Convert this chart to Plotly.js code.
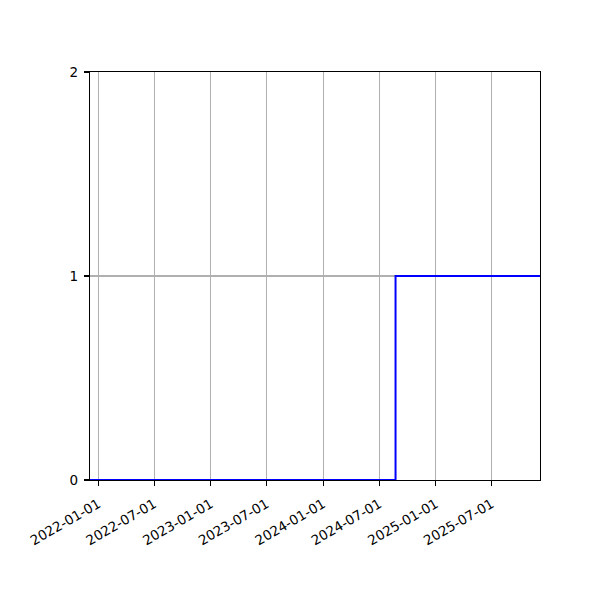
<!DOCTYPE html>
<html>
<head>
<meta charset="utf-8">
<script src="https://cdn.plot.ly/plotly-3.0.1.min.js"></script>
<style>
  html, body { margin: 0; padding: 0; background: #fff; }
  #chart { width: 600px; height: 600px; }
</style>
</head>
<body>
<div id="chart"></div>
<script>
// step series: 0 until late Aug 2024, then 1
const dates = ['2021-12-05', '2024-08-23', '2025-12-05'];
const values = [0, 1, 1];
const tickDates = ['2022-01-01', '2022-07-01', '2023-01-01', '2023-07-01',
  '2024-01-01', '2024-07-01', '2025-01-01', '2025-07-01'];
const yTicks = [0, 1, 2];

const trace = {
  x: dates,
  y: values,
  type: 'scatter',
  mode: 'lines',
  line: {shape: 'hv', color: '#0000ff', width: 2},
  hoverinfo: 'skip'
};

const axisCommon = {
  showline: true,
  linecolor: '#000',
  linewidth: 1.1,
  mirror: true,
  ticks: 'outside',
  ticklen: 5,
  tickwidth: 1.1,
  tickcolor: '#000',
  showgrid: true,
  gridcolor: '#b0b0b0',
  gridwidth: 1.1,
  zeroline: false
};

const layout = {
  width: 600,
  height: 600,
  margin: {l: 90, r: 60, t: 72, b: 120},
  paper_bgcolor: '#fff',
  plot_bgcolor: '#fff',
  font: {family: 'DejaVu Sans', size: 13.5, color: '#000'},
  showlegend: false,
  xaxis: Object.assign({}, axisCommon, {
    type: 'date',
    range: ['2021-12-05', '2025-12-05'],
    tickmode: 'array',
    tickvals: tickDates,
    ticktext: tickDates,
    tickangle: -30,
    ticklabelstandoff: 5
  }),
  yaxis: Object.assign({}, axisCommon, {
    range: [0, 2],
    tickmode: 'array',
    tickvals: yTicks,
    ticktext: yTicks.map(String),
    ticklabelstandoff: 3
  })
};

Plotly.newPlot('chart', [trace], layout, {staticPlot: true});
</script>
</body>
</html>
